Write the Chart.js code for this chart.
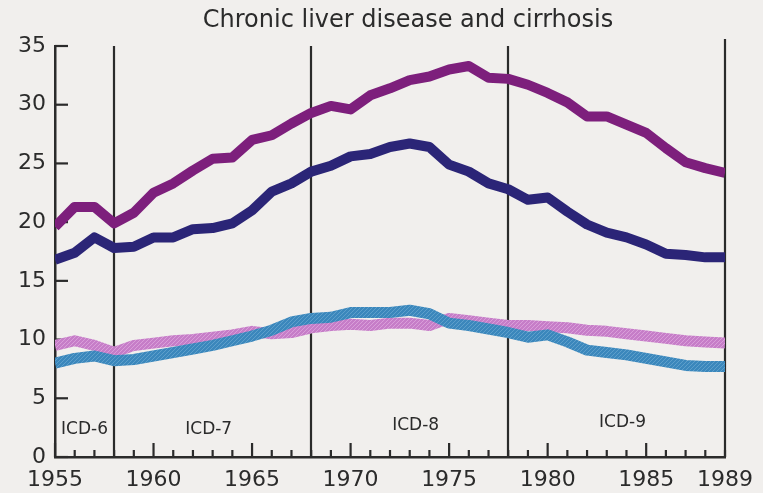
<!DOCTYPE html>
<html>
<head>
<meta charset="utf-8">
<script src="https://cdn.jsdelivr.net/npm/chart.js@4.4.0/dist/chart.umd.min.js"></script>
<style>
  html, body { margin: 0; padding: 0; background: #f1efed; }
  #wrap { width: 763px; height: 493px; position: relative; }
</style>
</head>
<body>
<div id="wrap"><canvas id="c" width="763" height="493"></canvas></div>
<script>
// ---- data ----
const chartTitle = "Chronic liver disease and cirrhosis";
const years = [1955,1956,1957,1958,1959,1960,1961,1962,1963,1964,1965,1966,1967,1968,1969,1970,1971,1972,1973,1974,1975,1976,1977,1978,1979,1980,1981,1982,1983,1984,1985,1986,1987,1988,1989];
const seriesPurple = [19.6,21.3,21.3,19.9,20.8,22.5,23.3,24.4,25.4,25.5,27.0,27.4,28.4,29.3,29.9,29.6,30.8,31.4,32.1,32.4,33.0,33.3,32.3,32.2,31.7,31.0,30.2,29.0,29.0,28.3,27.6,26.3,25.1,24.6,24.2];
const seriesNavy   = [16.8,17.4,18.7,17.8,17.9,18.7,18.7,19.4,19.5,19.9,21.0,22.6,23.3,24.3,24.8,25.6,25.8,26.4,26.7,26.4,24.9,24.3,23.3,22.8,21.9,22.1,20.9,19.8,19.1,18.7,18.1,17.3,17.2,17.0,17.0];
const seriesPink   = [9.5,9.9,9.5,8.9,9.5,9.7,9.9,10.0,10.2,10.4,10.7,10.5,10.6,11.0,11.2,11.3,11.2,11.4,11.4,11.2,11.8,11.6,11.4,11.2,11.2,11.1,11.0,10.8,10.7,10.5,10.3,10.1,9.9,9.8,9.7];
const seriesBlue   = [8.0,8.4,8.6,8.2,8.3,8.6,8.9,9.2,9.5,9.9,10.3,10.8,11.5,11.8,11.9,12.3,12.3,12.3,12.5,12.2,11.4,11.2,10.9,10.6,10.2,10.4,9.8,9.1,8.9,8.7,8.4,8.1,7.8,7.7,7.7];
const xTickLabels = [1955,1960,1965,1970,1975,1980,1985,1989];
const yTickValues = [0,5,10,15,20,25,30,35];
const icdBoundaries = [1958,1968,1978,1989];
const icdNames = ["ICD-6","ICD-7","ICD-8","ICD-9"];
const icdNameYears = [1956.5,1962.8,1973.3,1983.8];
const icdNameValues = [2.3,2.3,2.7,2.9];

// ---- styling helpers ----
function hatch(base, stripe) {
  const c = document.createElement('canvas');
  c.width = 4; c.height = 4;
  const g = c.getContext('2d');
  g.fillStyle = base; g.fillRect(0,0,4,4);
  g.strokeStyle = stripe; g.lineWidth = 1;
  g.beginPath();
  g.moveTo(0,4); g.lineTo(4,0);
  g.moveTo(-2,2); g.lineTo(2,-2);
  g.moveTo(2,6); g.lineTo(6,2);
  g.stroke();
  return g.createPattern(c, 'repeat');
}
const pinkPattern = hatch('#c67dc8', '#d99ed9');
const bluePattern = hatch('#3b87bc', '#5d9fcb');

const FONT = "'DejaVu Sans', 'Liberation Sans', sans-serif";
const INK = '#2b2b2b';

const pts = arr => years.map((y, i) => ({x: y, y: arr[i]}));

const decor = {
  id: 'decor',
  beforeDatasetsDraw(chart) {
    const {ctx, chartArea: a, scales: {x, y}} = chart;
    ctx.save();
    ctx.strokeStyle = INK;
    ctx.lineWidth = 2.2;
    // ICD revision boundaries
    icdBoundaries.forEach(b => {
      const px = Math.round(x.getPixelForValue(b));
      ctx.beginPath();
      ctx.moveTo(px, b === 1989 ? a.top - 7 : a.top);
      ctx.lineTo(px, a.bottom);
      ctx.stroke();
    });
    // inward y ticks
    yTickValues.forEach(v => {
      const py = y.getPixelForValue(v);
      ctx.beginPath();
      ctx.moveTo(a.left, py);
      ctx.lineTo(a.left + 13, py);
      ctx.stroke();
    });
    // inward x ticks (minor every year, major every 5)
    years.forEach(yr => {
      const px = x.getPixelForValue(yr);
      const len = (yr % 5 === 0) ? 14 : 7;
      ctx.beginPath();
      ctx.moveTo(px, a.bottom);
      ctx.lineTo(px, a.bottom - len);
      ctx.stroke();
    });
    // ICD labels
    ctx.fillStyle = INK;
    ctx.font = "17px " + FONT;
    ctx.textAlign = 'center';
    ctx.textBaseline = 'middle';
    icdNames.forEach((n, i) => {
      ctx.fillText(n, x.getPixelForValue(icdNameYears[i]), y.getPixelForValue(icdNameValues[i]));
    });
    ctx.restore();
  },
  afterDraw(chart) {
    const {ctx} = chart;
    ctx.save();
    ctx.fillStyle = INK;
    ctx.font = "24px " + FONT;
    ctx.textAlign = 'center';
    ctx.textBaseline = 'middle';
    ctx.fillText(chartTitle, 408, 21);
    ctx.restore();
  }
};

new Chart(document.getElementById('c'), {
  type: 'line',
  data: {
    datasets: [
      { label: 'purple', data: pts(seriesPurple), borderColor: '#7d1f7c', borderWidth: 10, order: 1 },
      { label: 'navy', data: pts(seriesNavy), borderColor: '#2b2577', borderWidth: 10, order: 2 },
      { label: 'blue', data: pts(seriesBlue), borderColor: bluePattern, borderWidth: 11, order: 3 },
      { label: 'pink', data: pts(seriesPink), borderColor: pinkPattern, borderWidth: 11, order: 4 }
    ]
  },
  options: {
    responsive: false,
    animation: false,
    events: [],
    layout: { padding: { top: 46, right: 28, left: 0, bottom: 0 } },
    elements: {
      point: { radius: 0 },
      line: { tension: 0, borderJoinStyle: 'round', borderCapStyle: 'butt', fill: false }
    },
    plugins: { legend: { display: false }, tooltip: { enabled: false }, title: { display: false } },
    scales: {
      x: {
        type: 'linear', min: 1955, max: 1989,
        grid: { display: false, drawTicks: false },
        border: { display: true, color: INK, width: 2.5 },
        afterBuildTicks: s => { s.ticks = xTickLabels.map(v => ({value: v})); },
        ticks: { color: INK, font: { family: FONT, size: 22 }, padding: 10, maxRotation: 0, autoSkip: false,
                 callback: v => String(v) },
        afterFit: s => { s.height = 36; }
      },
      y: {
        min: 0, max: 35,
        grid: { display: false, drawTicks: false },
        border: { display: true, color: INK, width: 2.5 },
        afterBuildTicks: s => { s.ticks = yTickValues.map(v => ({value: v})); },
        ticks: { color: INK, font: { family: FONT, size: 22 }, padding: 9 },
        afterFit: s => { s.width = 55; }
      }
    }
  },
  plugins: [decor]
});
</script>
</body>
</html>
